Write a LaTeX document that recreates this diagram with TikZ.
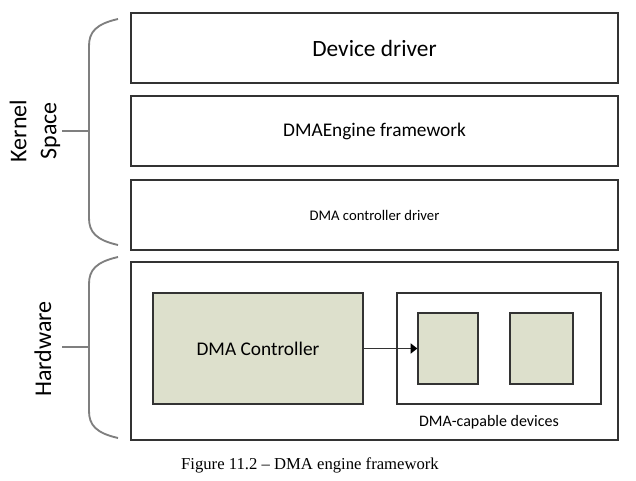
\documentclass[tikz,border=0pt]{standalone}
\usepackage{fontspec}
\setmainfont{Carlito}
\newfontfamily\capfont[Ligatures=TeX]{Liberation Serif}
\usetikzlibrary{arrows.meta}
\definecolor{boxfill}{HTML}{DDE0CC}
\definecolor{linegray}{HTML}{333333}
\definecolor{bracegray}{HTML}{7F7F7F}
\tikzset{
  layer/.style={draw=linegray, line width=1.3pt, minimum width=487*0.75pt, inner sep=0pt},
  block/.style={draw=linegray, line width=1pt, fill=boxfill, inner sep=0pt},
  holder/.style={draw=linegray, line width=1pt, fill=white, inner sep=0pt},
  brace/.style={draw=bracegray, line width=1.4pt},
}
\begin{document}
\begin{tikzpicture}[x=0.75pt, y=-0.75pt]
      \useasboundingbox (0, 0) rectangle (636, 481);
      % software layers
      \node[layer, minimum height=70*0.75pt] (drv) at (374.5, 48){\fontsize{17.5}{20}\selectfont Device driver};
      \node[layer, minimum height=70*0.75pt] (eng) at (374.5, 131){\fontsize{14.5}{17}\selectfont DMAEngine framework};
      \node[layer, minimum height=70*0.75pt] (ctl) at (374.5, 215){\fontsize{11}{13}\selectfont DMA controller driver};
      % hardware
      \node[layer, minimum height=178*0.75pt] (hw) at (374.5, 351){};
      \node[block, minimum width=210*0.75pt, minimum height=111*0.75pt] (dmac) at (258, 348.5){\fontsize{14.5}{17}\selectfont DMA Controller};
      \node[holder, minimum width=204*0.75pt, minimum height=111*0.75pt] (devs) at (499, 348.5){};
      \node[block, minimum width=60*0.75pt, minimum height=71*0.75pt] (dev1) at (448, 348.5){};
      \node[block, minimum width=63*0.75pt, minimum height=71*0.75pt] (dev2) at (541.5, 348.5){};
      \node (devslbl) at (489, 422){\fontsize{12}{14}\selectfont DMA-capable devices};
      \draw[linegray, line width=1.2pt, -{Triangle[length=5pt, width=7.5pt, color=black]}] (dmac.east) -- (dev1.west);

      % braces
      \path[brace] (118, 19) .. controls (96, 24) and (89, 32) .. (89, 46) -- (89, 218) .. controls (89, 232) and (96, 240) .. (118, 245);
        \path[brace] (62, 131) -- (89, 131);
      \path[brace] (118, 257) .. controls (96, 262) and (89, 270) .. (89, 284) -- (89, 411) .. controls (89, 425) and (96, 433) .. (118, 438);
        \path[brace] (62, 347) -- (89, 347);
      \node[rotate=90, align=center, font=\fontsize{18}{22.5}\selectfont] (kern) at (35, 131){Kernel\\Space};
      \node[rotate=90] (hwlbl) at (43, 349){\fontsize{18}{20}\selectfont Hardware};

      \node (cap) at (310, 465){\capfont\fontsize{12.5}{15}\selectfont Figure 11.2 -- DMA engine framework};
    \end{tikzpicture}
\end{document}
